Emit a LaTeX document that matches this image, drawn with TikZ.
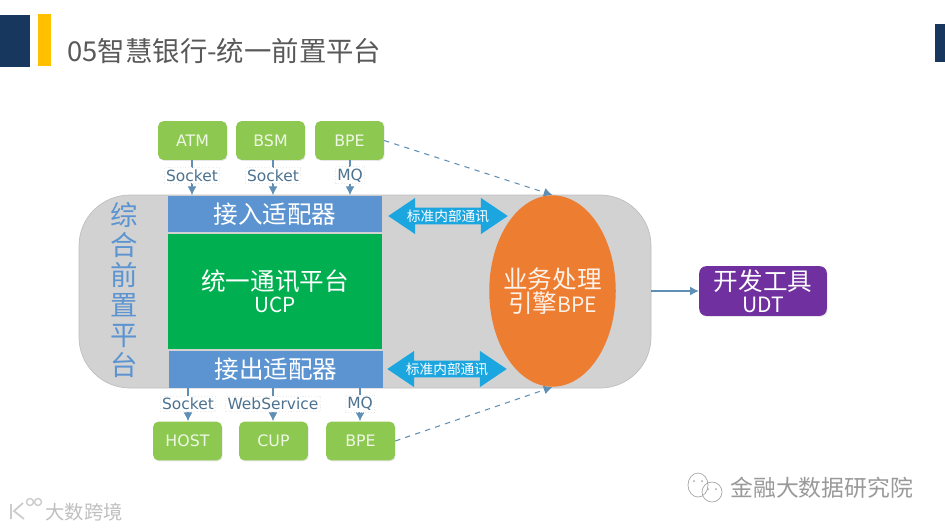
\documentclass[tikz,border=0pt]{standalone}
\usepackage{fontspec}
\setmainfont{DejaVu Sans}
\newfontfamily\cjkfont{Noto Sans CJK SC}
\usepackage{tikz}
\usetikzlibrary{shapes.geometric,shapes.arrows,arrows.meta,positioning,calc,shadows}
\definecolor{znavy}{HTML}{17375E}
\definecolor{zjaune}{HTML}{FFC000}
\definecolor{ztitre}{HTML}{595959}
\definecolor{zgris}{HTML}{D2D2D2}
\definecolor{zbleu}{HTML}{5B94D0}
\definecolor{zvert}{HTML}{00B050}
\definecolor{zclair}{HTML}{8DC951}
\definecolor{zorange}{HTML}{ED7D31}
\definecolor{zviolet}{HTML}{7030A0}
\definecolor{zfleche}{HTML}{1CA6E0}
\definecolor{zlien}{HTML}{5F8FB4}
\tikzset{
  srcbox/.style={draw=none,fill=zclair,rounded corners=3pt,minimum width=39.1pt,minimum height=22.1pt,inner sep=0pt,text=white!85!zclair,font=\fontsize{9}{11}\selectfont,drop shadow={shadow xshift=0.5pt,shadow yshift=-0.5pt,opacity=.2}},
  adapter/.style={draw=none,fill=zbleu,minimum width=121.3pt,minimum height=21pt,inner sep=0pt,text=white,font=\cjkfont\fontsize{14}{17}\selectfont},
  linkarrow/.style={draw=none,fill=zfleche,double arrow,double arrow tip angle=68,double arrow head extend=4.4pt,minimum height=68pt,minimum width=20.6pt,inner sep=0pt,text=white,font=\cjkfont\fontsize{7.8}{9}\selectfont},
  protolbl/.style={fill=white,draw=black!8,densely dotted,inner sep=1pt,text=zlien!80!black,font=\fontsize{8.8}{10}\selectfont},
  conn/.style={zlien,line width=0.6pt,-{Latex[length=5pt,width=5pt]}},
  mark text/.style={text=black!40,font=\cjkfont\fontsize{13}{15}\selectfont},
}
\begin{document}
\begin{tikzpicture}[x=0.02cm,y=-0.02cm]
  \useasboundingbox (0,0) rectangle (945,529);
  % bandeau
  \fill[znavy] (0,15) rectangle (30,67);
  \fill[zjaune] (38,14) rectangle (51,66);
  \fill[znavy] (935,24) rectangle (945,62);
  \node[anchor=west,inner sep=0pt,text=ztitre,font=\cjkfont\fontsize{15.6}{18}\selectfont] (titre) at (67,51) {05智慧银行-统一前置平台};
  % plateforme
  \filldraw[draw=black!25,fill=zgris,rounded corners=29pt] (79,195) rectangle (651,388);
  \node[text=zbleu,align=center,inner sep=0pt,font=\cjkfont\fontsize{15.6}{17}\selectfont] (plateforme) at (124,290) {综\\合\\前\\置\\平\\台};
  \node[adapter] (entree) at (275,214) {接入适配器};
  \node[fill=zvert,minimum width=121.3pt,minimum height=65.2pt,inner sep=0pt,text=white,align=center,font=\cjkfont\fontsize{14}{17}\selectfont] (ucp) at (275,291.5) {统一通讯平台\\[-4.4pt]\fontsize{11.8}{13}\selectfont UCP};
  \node[adapter] (sortie) at (276,369.5) {接出适配器};
  % moteur
  \node[ellipse,fill=zorange,minimum width=72pt,minimum height=108.9pt,inner sep=0pt,text=white!90!zorange,align=center,font=\cjkfont\fontsize{14}{17}\selectfont] (moteur) at (552.5,291) {\makebox[45pt]{业务处理}\\[-3.6pt]\makebox[45pt]{引擎\fontsize{12}{14}\selectfont BPE}};
  \node[linkarrow] (lienhaut) at (448,216) {标准内部通讯};
  \node[linkarrow] (lienbas) at (447,369) {标准内部通讯};
  % sources du haut
  \foreach \nom/\x/\txt in {atm/192.5/ATM,bsm/270.5/BSM,bpehaut/349.5/BPE}
    \node[srcbox] (\nom) at (\x,140.5) {\txt};
  \foreach \nom/\x/\txt in {atm/192/Socket,bsm/273/Socket,bpehaut/350/MQ} {
    \coordinate (col) at (\x,0);
    \draw[conn] (col |- \nom.south) -- node[protolbl,pos=.43]{\txt} (col |- entree.north);
  }
  % cibles du bas
  \foreach \nom/\x/\txt in {host/187.5/HOST,cup/273.5/CUP,bpebas/360.5/BPE}
    \node[srcbox] (\nom) at (\x,441) {\txt};
  \foreach \nom/\x/\txt in {host/188/Socket,cup/273/WebService,bpebas/360/MQ} {
    \coordinate (col) at (\x,0);
    \draw[conn] (col |- sortie.south) -- node[protolbl,pos=.47]{\txt} (col |- \nom.north);
  }
  % liens vers le moteur
  \draw[conn,dashed] (bpehaut.east) -- (moteur.north);
  \draw[conn,dashed] (bpebas.east) -- (moteur.south);
  % outils
  \node[fill=zviolet,rounded corners=4pt,minimum width=72.6pt,minimum height=28.3pt,inner sep=0pt,text=white,align=center,font=\cjkfont\fontsize{14}{15}\selectfont,drop shadow={shadow xshift=0.5pt,shadow yshift=-0.5pt,opacity=.2}] (udt) at (763,291) {开发工具\\[-2.3pt]\fontsize{12}{13}\selectfont UDT};
  \coordinate (bord) at (651,291);
  \draw[conn] (bord) -- (udt.west);
  % filigranes
  \node[anchor=west,inner sep=0pt,mark text] (compte) at (730,488) {金融大数据研究院};
  \draw[black!35,line width=0.4pt] (698,485) ellipse (10 and 12) (712,492) ellipse (10 and 10);
  \fill[black!35] (694,481) circle (1) (702,481) circle (1) (708,489) circle (1) (716,489) circle (1);
  \node[anchor=west,inner sep=0pt,text=black!25,font=\cjkfont\fontsize{11}{13}\selectfont] (marque) at (45,512) {大数跨境};
  \draw[black!20,line width=1pt] (11,504) -- (11,519) (23,503) -- (14,511) -- (24,519);
  \draw[black!20,line width=0.8pt] (30,502) circle (3.5) (38,502) circle (3.5);
\end{tikzpicture}
\end{document}
